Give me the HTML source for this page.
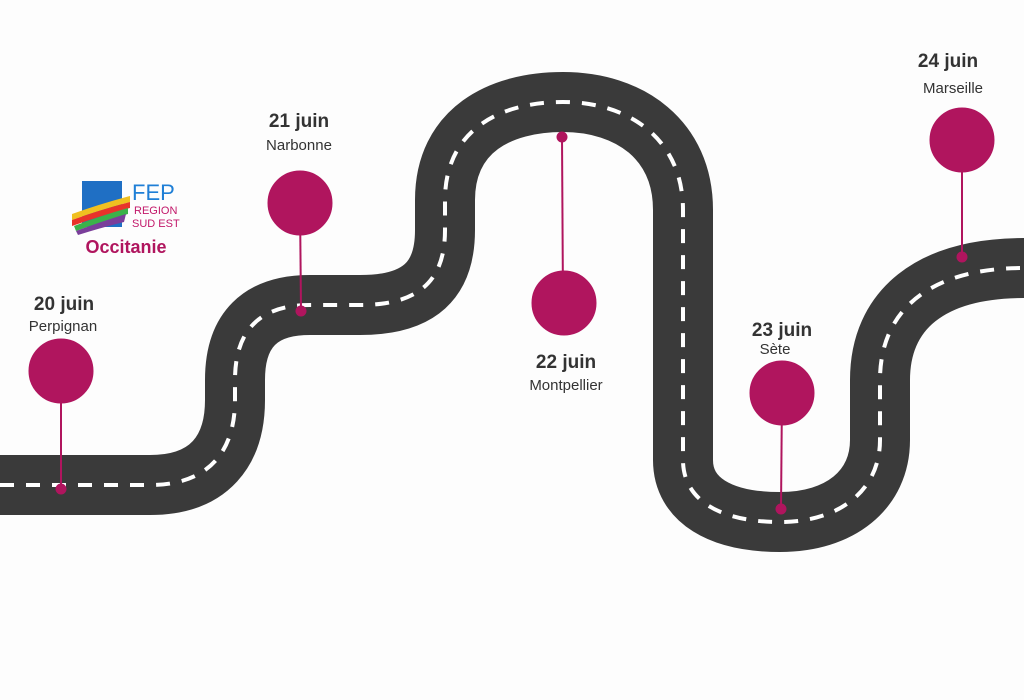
<!DOCTYPE html>
<html><head><meta charset="utf-8"><style>
body{margin:0;background:#fdfdfd;}
svg{display:block;font-family:"Liberation Sans",sans-serif;}
</style></head><body>
<svg width="1024" height="700" viewBox="0 0 1024 700">
<rect width="1024" height="700" fill="#fdfdfd"/>
<path d="M0,485 L150,485 C210,485 235,450 235,400 L235,380 C235,330 260,305 310,305 L360,305 C420,305 445,280 445,230 L445,200 C445,130 500,102 563,102 C630,102 683,140 683,210 L683,460 C683,500 720,522 780,522 C840,522 880,490 880,440 L880,380 C880,310 930,268 1024,268" fill="none" stroke="#3a3a3a" stroke-width="60"/>
<path d="M0,485 L150,485 C210,485 235,450 235,400 L235,380 C235,330 260,305 310,305 L360,305 C420,305 445,280 445,230 L445,200 C445,130 500,102 563,102 C630,102 683,140 683,210 L683,460 C683,500 720,522 780,522 C840,522 880,490 880,440 L880,380 C880,310 930,268 1024,268" fill="none" stroke="#fff" stroke-width="4" stroke-dasharray="14 12"/>
<g fill="#b0155e" stroke="#b0155e">
<line x1="61" y1="371" x2="61" y2="489" stroke-width="2"/><circle cx="61" cy="371" r="32"/><circle cx="61" cy="489" r="5"/>
<line x1="300" y1="203" x2="301" y2="311" stroke-width="2"/><circle cx="300" cy="203" r="32"/><circle cx="301" cy="311" r="5"/>
<line x1="562" y1="137" x2="563" y2="303" stroke-width="2"/><circle cx="564" cy="303" r="32"/><circle cx="562" cy="137" r="5"/>
<line x1="782" y1="393" x2="781" y2="509" stroke-width="2"/><circle cx="782" cy="393" r="32"/><circle cx="781" cy="509" r="5"/>
<line x1="962" y1="140" x2="962" y2="257" stroke-width="2"/><circle cx="962" cy="140" r="32"/><circle cx="962" cy="257" r="5"/>
</g>
<g fill="#333" text-anchor="middle">
<text x="64" y="310" font-size="19" font-weight="bold">20 juin</text>
<text x="63" y="331" font-size="15">Perpignan</text>
<text x="299" y="127" font-size="19" font-weight="bold">21 juin</text>
<text x="299" y="150" font-size="15">Narbonne</text>
<text x="566" y="368" font-size="19" font-weight="bold">22 juin</text>
<text x="566" y="390" font-size="15">Montpellier</text>
<text x="782" y="336" font-size="19" font-weight="bold">23 juin</text>
<text x="775" y="354" font-size="15">Sète</text>
<text x="948" y="67" font-size="19" font-weight="bold">24 juin</text>
<text x="953" y="93" font-size="15">Marseille</text>
</g>
<!-- logo -->
<rect x="82" y="181" width="40" height="46" fill="#1f6fc4"/>
<path d="M72,214 Q100,204 130,196 L130,202 Q100,210 72,220Z" fill="#f0c020"/>
<path d="M72,220 Q100,210 130,202 L130,208 Q100,216 72,226Z" fill="#e8332a"/>
<path d="M74,226 Q100,216 128,208 L128,214 Q100,222 76,231Z" fill="#3bb24a"/>
<path d="M76,231 Q100,222 126,214 L124,222 Q100,228 78,235Z" fill="#7a3e9a"/>
<text x="132" y="200" font-size="22" fill="#1f7fd6">FEP</text>
<text x="134" y="214" font-size="11" fill="#c2186a">REGION</text>
<text x="132" y="227" font-size="11" fill="#c2186a">SUD EST</text>
<text x="126" y="253" font-size="18" font-weight="bold" fill="#b0155e" text-anchor="middle">Occitanie</text>
</svg>
</body></html>
